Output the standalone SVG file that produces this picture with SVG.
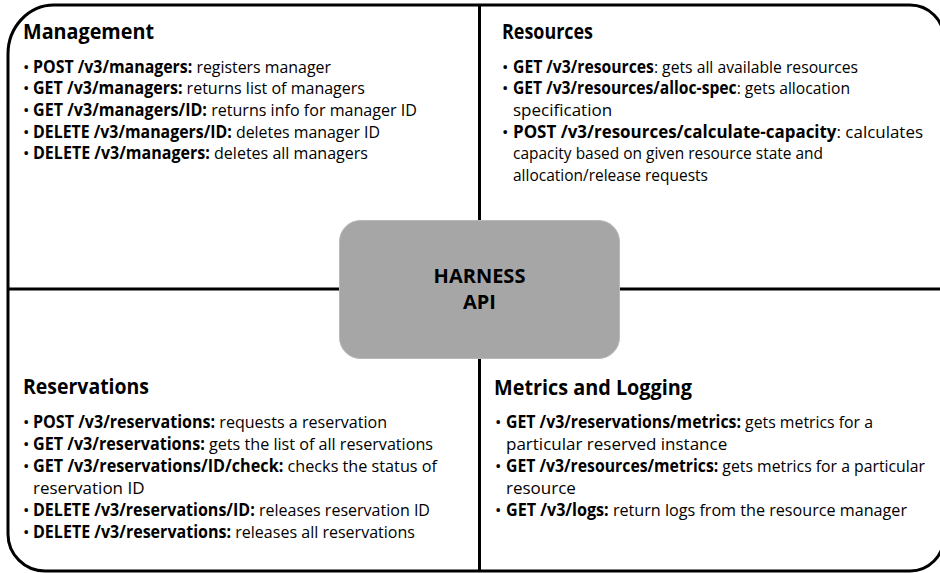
<svg xmlns="http://www.w3.org/2000/svg" width="940" height="573" viewBox="0 0 940 573">
<style>
text{font-family:"Open Sans","Noto Sans","Liberation Sans",sans-serif;fill:#000}
.h{font-size:20.5px;font-weight:700}
.t{font-size:17px}
.b{font-weight:700}
.frame{fill:none;stroke:#000;stroke-width:3}
.div{stroke:#000;stroke-width:3}
.hub{fill:#a6a6a6;stroke:#b8b8b8;stroke-width:1}
.hubt{font-size:20px;font-weight:700;text-anchor:middle}
</style>
<rect width="940" height="573" fill="#fff"/>
<path class="frame" d="M54,5 L910,5 A34,34 0 0 1 944,39 L944,537 A34,34 0 0 1 910,571 L45,571 A37,37 0 0 1 8,534 L8,54 A46,49 0 0 1 54,5 Z"/>
<g id="connectors">
<line class="div" x1="479.5" y1="5" x2="479.5" y2="220"/>
<line class="div" x1="479.5" y1="359" x2="479.5" y2="571"/>
<line class="div" x1="8" y1="289" x2="339" y2="289"/>
<line class="div" x1="620" y1="289" x2="944" y2="289"/>
</g>
<g id="hub">
<rect class="hub" x="339.5" y="220.5" width="280" height="138" rx="21"/>
<text class="hubt" x="479.5" y="283">HARNESS</text>
<text class="hubt" x="479.5" y="309">API</text>
</g>
<g id="management">
<text class="h" x="23" y="39" textLength="131" lengthAdjust="spacingAndGlyphs">Management</text>
<g class="t">
<text x="23" y="72.5">•</text>
<text x="33" y="72.5" textLength="298" lengthAdjust="spacingAndGlyphs"><tspan class="b">POST /v3/managers:</tspan> registers manager</text>
<text x="23" y="94">•</text>
<text x="33" y="94" textLength="332" lengthAdjust="spacingAndGlyphs"><tspan class="b">GET /v3/managers:</tspan> returns list of managers</text>
<text x="23" y="116">•</text>
<text x="33" y="116" textLength="384" lengthAdjust="spacingAndGlyphs"><tspan class="b">GET /v3/managers/ID:</tspan> returns info for manager ID</text>
<text x="23" y="137.5">•</text>
<text x="33" y="137.5" textLength="347" lengthAdjust="spacingAndGlyphs"><tspan class="b">DELETE /v3/managers/ID:</tspan> deletes manager ID</text>
<text x="23" y="159">•</text>
<text x="33" y="159" textLength="335" lengthAdjust="spacingAndGlyphs"><tspan class="b">DELETE /v3/managers:</tspan> deletes all managers</text>
</g>
</g>
<g id="resources">
<text class="h" x="502" y="39" textLength="91" lengthAdjust="spacingAndGlyphs">Resources</text>
<g class="t">
<text x="502" y="72.5">•</text>
<text x="513" y="72.5" textLength="345" lengthAdjust="spacingAndGlyphs"><tspan class="b">GET /v3/resources</tspan>: gets all available resources</text>
<text x="502" y="94">•</text>
<text x="513" y="94" textLength="337" lengthAdjust="spacingAndGlyphs"><tspan class="b">GET /v3/resources/alloc-spec</tspan>: gets allocation</text>
<text x="513" y="116">specification</text>
<text x="502" y="137.5">•</text>
<text x="513" y="137.5" textLength="410" lengthAdjust="spacingAndGlyphs"><tspan class="b">POST /v3/resources/calculate-capacity</tspan>: calculates</text>
<text x="513" y="159" textLength="310" lengthAdjust="spacingAndGlyphs">capacity based on given resource state and</text>
<text x="513" y="181" textLength="195" lengthAdjust="spacingAndGlyphs">allocation/release requests</text>
</g>
</g>
<g id="reservations">
<text class="h" x="23" y="394" textLength="126" lengthAdjust="spacingAndGlyphs">Reservations</text>
<g class="t">
<text x="23" y="428">•</text>
<text x="33" y="428" textLength="354" lengthAdjust="spacingAndGlyphs"><tspan class="b">POST /v3/reservations:</tspan> requests a reservation</text>
<text x="23" y="450">•</text>
<text x="33" y="450" textLength="400" lengthAdjust="spacingAndGlyphs"><tspan class="b">GET /v3/reservations:</tspan> gets the list of all reservations</text>
<text x="23" y="472">•</text>
<text x="33" y="472" textLength="404" lengthAdjust="spacingAndGlyphs"><tspan class="b">GET /v3/reservations/ID/check:</tspan> checks the status of</text>
<text x="33" y="494">reservation ID</text>
<text x="23" y="516">•</text>
<text x="33" y="516" textLength="397" lengthAdjust="spacingAndGlyphs"><tspan class="b">DELETE /v3/reservations/ID:</tspan> releases reservation ID</text>
<text x="23" y="538">•</text>
<text x="33" y="538" textLength="382" lengthAdjust="spacingAndGlyphs"><tspan class="b">DELETE /v3/reservations:</tspan> releases all reservations</text>
</g>
</g>
<g id="metrics">
<text class="h" x="494" y="395" textLength="198" lengthAdjust="spacingAndGlyphs">Metrics and Logging</text>
<g class="t">
<text x="495" y="428">•</text>
<text x="506" y="428" textLength="367" lengthAdjust="spacingAndGlyphs"><tspan class="b">GET /v3/reservations/metrics:</tspan> gets metrics for a</text>
<text x="506" y="450">particular reserved instance</text>
<text x="495" y="472">•</text>
<text x="506" y="472" textLength="419" lengthAdjust="spacingAndGlyphs"><tspan class="b">GET /v3/resources/metrics:</tspan> gets metrics for a particular</text>
<text x="506" y="494">resource</text>
<text x="495" y="516">•</text>
<text x="506" y="516" textLength="401" lengthAdjust="spacingAndGlyphs"><tspan class="b">GET /v3/logs:</tspan> return logs from the resource manager</text>
</g>
</g>
</svg>
